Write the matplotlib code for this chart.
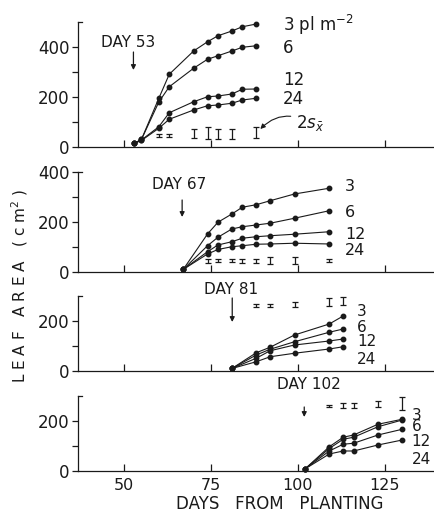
import matplotlib
matplotlib.use('Agg')
import matplotlib.pyplot as plt

# Leaf area (cm2) per plant for 4 planting densities (3, 6, 12, 24 pl m-2),
# four separate growth runs starting at day 53, 67, 81 and 102
densities = ['3 pl m$^{-2}$', '6', '12', '24']

days1 = [53, 55, 60, 63, 70, 74, 77, 81, 84, 88]
p1_3 = [15, 30, 195, 291, 384, 421, 445, 464, 481, 492]
p1_6 = [15, 30, 180, 241, 315, 351, 365, 384, 399, 405]
p1_12 = [15, 28, 81, 137, 181, 201, 204, 212, 231, 232]
p1_24 = [15, 26, 75, 111, 148, 165, 168, 175, 188, 195]
err1_days = [60, 63, 70, 74, 77, 81, 88]
err1_mid = [45, 45, 55, 55, 53, 53, 58]
err1_half = [6, 6, 18, 24, 20, 20, 22]

days2 = [67, 74, 77, 81, 84, 88, 92, 99, 109]
p2_3 = [10, 152, 199, 232, 259, 269, 285, 312, 335]
p2_6 = [10, 105, 139, 172, 181, 188, 195, 215, 245]
p2_12 = [10, 81, 108, 121, 135, 141, 145, 151, 161]
p2_24 = [10, 72, 90, 101, 105, 111, 112, 115, 112]
err2_days = [74, 77, 81, 84, 88, 92, 99, 109]
err2_mid = [45, 45, 45, 45, 45, 45, 45, 45]
err2_half = [8, 7, 7, 8, 8, 15, 13, 7]

days3 = [81, 88, 92, 99, 109, 113]
p3_3 = [10, 73, 95, 144, 188, 220]
p3_6 = [10, 64, 87, 117, 155, 168]
p3_12 = [10, 51, 81, 104, 120, 128]
p3_24 = [10, 37, 57, 71, 88, 97]
err3_days = [88, 92, 99, 109, 113]
err3_mid = [262, 262, 266, 276, 278]
err3_half = [5, 5, 10, 16, 16]

days4 = [102, 109, 113, 116, 123, 130]
p4_3 = [8, 97, 135, 144, 187, 207]
p4_6 = [8, 90, 127, 135, 177, 204]
p4_12 = [8, 80, 107, 111, 144, 167]
p4_24 = [8, 68, 80, 80, 104, 124]
err4_days = [109, 113, 116, 123, 130]
err4_mid = [260, 262, 262, 266, 270]
err4_half = [4, 10, 10, 12, 25]

start_labels = ['DAY 53', 'DAY 67', 'DAY 81', 'DAY 102']
x_ticks = [50, 75, 100, 125]

ink = '#1a1a1a'
plt.rcParams['font.family'] = ['DejaVu Sans']

fig = plt.figure(figsize=(4.34, 5.12), dpi=100)

# panel positions: same y scale (25 px per 100 cm2), different heights
left, width = 0.18, 0.82
panels = [
	dict(bottom=0.7129, height=0.2441, top=500,
		days=days1, series=[p1_3, p1_6, p1_12, p1_24],
		err=(err1_days, err1_mid, err1_half),
		lab_x=95.7, lab_y=[488, 396, 268, 192], lab_fs=12,
		day_txt=(51.2, 420), arrow=(52.7, 380, 308)),
	dict(bottom=0.4688, height=0.1953, top=400,
		days=days2, series=[p2_3, p2_6, p2_12, p2_24],
		err=(err2_days, err2_mid, err2_half),
		lab_x=113.5, lab_y=[340, 236, 150, 86], lab_fs=11.5,
		day_txt=(65.8, 348), arrow=(66.7, 288, 220)),
	dict(bottom=0.2754, height=0.1465, top=300,
		days=days3, series=[p3_3, p3_6, p3_12, p3_24],
		err=(err3_days, err3_mid, err3_half),
		lab_x=117, lab_y=[236, 172, 116, 44], lab_fs=11,
		day_txt=(80.8, 324), arrow=(81.1, 292, 196)),
	dict(bottom=0.0801, height=0.1465, top=300,
		days=days4, series=[p4_3, p4_6, p4_12, p4_24],
		err=(err4_days, err4_mid, err4_half),
		lab_x=132.6, lab_y=[222, 176, 116, 44], lab_fs=11,
		day_txt=(103, 344), arrow=(101.8, 256, 216)),
]

for i, p in enumerate(panels):
	ax = fig.add_axes([left, p['bottom'], width, p['height']])
	ax.set_xlim(36.8, 139.1)
	ax.set_ylim(0, p['top'])

	for vals in p['series']:
		ax.plot(p['days'], vals, color=ink, lw=0.8, marker='o', ms=3.2,
			mfc=ink, mec=ink, clip_on=False, zorder=3)

	ed, em, eh = p['err']
	ax.errorbar(ed, em, yerr=eh, fmt='none', ecolor=ink, elinewidth=0.9,
		capsize=2.2, capthick=0.9, clip_on=False)

	# density labels at the right end of the curves
	if i == 0:
		names = densities
	else:
		names = ['3', '6', '12', '24']
	for name, y in zip(names, p['lab_y']):
		ax.text(p['lab_x'], y, name, fontsize=p['lab_fs'], color=ink,
			va='center', ha='left', clip_on=False)

	# day of planting arrow
	tx, ty = p['day_txt']
	ax.text(tx, ty, start_labels[i], fontsize=11, color=ink, ha='center',
		va='center', clip_on=False)
	axx, ay0, ay1 = p['arrow']
	ax.annotate('', xy=(axx, ay1), xytext=(axx, ay0),
		arrowprops=dict(arrowstyle='-|>', color=ink, lw=0.9,
			mutation_scale=7, shrinkA=0, shrinkB=0))

	# axes styling
	for s in ['top', 'right']:
		ax.spines[s].set_visible(False)
	ax.spines['left'].set_linewidth(0.9)
	ax.spines['bottom'].set_linewidth(0.9)
	ax.spines['left'].set_color(ink)
	ax.spines['bottom'].set_color(ink)

	ax.set_xticks(x_ticks)
	ax.tick_params(axis='x', direction='in', length=5, width=0.9,
		colors=ink, labelsize=11.5, pad=5)
	if i < 3:
		ax.set_xticklabels([])

	major = [v for v in [0, 200, 400] if v <= p['top']]
	minor = [v for v in [100, 300] if v < p['top']]
	ax.set_yticks(major)
	ax.set_yticks(minor, minor=True)
	ax.tick_params(axis='y', which='major', direction='out', length=4,
		width=0.9, colors=ink, labelsize=12, pad=2)
	ax.tick_params(axis='y', which='minor', direction='out', length=4,
		width=0.9, colors=ink)
	ax.set_yticklabels([str(v) for v in major])

	# small bracket tick at the top of the y axis
	ax.plot([0, 0.012], [1, 1], transform=ax.transAxes, color=ink,
		lw=0.9, clip_on=False)

	if i == 0:
		ax.annotate(r'$2s_{\bar{x}}$', xy=(88.9, 68), xytext=(99.5, 95),
			fontsize=12, color=ink, va='center',
			arrowprops=dict(arrowstyle='-|>', color=ink, lw=0.8,
				mutation_scale=7, shrinkB=1,
				connectionstyle='arc3,rad=0.4'))

fig.text(0.046, 0.441, 'L E A F   A R E A   ( c m$^2$ )', rotation=90,
	fontsize=11, color=ink, ha='center', va='center')
fig.text(0.645, 0.0156, 'DAYS   FROM   PLANTING', fontsize=12, color=ink,
	ha='center', va='center')

plt.savefig('out.png', dpi=100)
